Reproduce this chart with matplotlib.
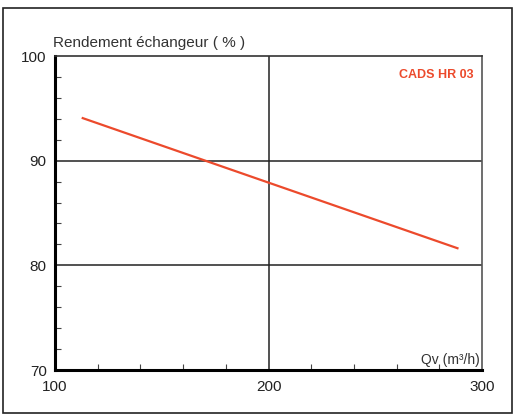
import matplotlib
matplotlib.use("Agg")
import matplotlib.pyplot as plt
from matplotlib.patches import Rectangle
from matplotlib.ticker import MultipleLocator

# data
qv = [112.5, 289]
rendement = [94.1, 81.6]
x_ticks = [100, 200, 300]
y_ticks = [70, 80, 90, 100]

RED = "#ec4a2c"
plt.rcParams["font.family"] = ["Liberation Sans", "DejaVu Sans"]

fig = plt.figure(figsize=(5.15, 4.17), dpi=100)
ax = fig.add_axes([55 / 515, 1 - 370 / 417, 427 / 515, 314 / 417])

# frame around the whole chart
fig.patches.append(Rectangle((3 / 515, 1 - 413 / 417), 509 / 515, 405 / 417,
                             transform=fig.transFigure, fill=False,
                             edgecolor="#222222", linewidth=1.2))

ax.plot(qv, rendement, color=RED, linewidth=1.6, solid_capstyle="butt")

ax.set_xlim(100, 300)
ax.set_ylim(70, 100)
ax.set_xticks(x_ticks)
ax.set_yticks(y_ticks)
ax.xaxis.set_minor_locator(MultipleLocator(20))
ax.yaxis.set_minor_locator(MultipleLocator(2))
ax.tick_params(which="major", length=0, labelsize=11, colors="#222222")
ax.tick_params(axis="x", which="major", pad=7)
ax.tick_params(axis="y", which="major", pad=6)
ax.tick_params(which="minor", direction="in", length=4, width=0.8,
               colors="#444444")

# grid lines on the inner major values
for y in [80, 90]:
    ax.axhline(y, color="#222222", linewidth=1.1, zorder=1)
ax.axvline(200, color="#222222", linewidth=1.1, zorder=1)

ax.spines["left"].set_linewidth(2.2)
ax.spines["bottom"].set_linewidth(2.2)
ax.spines["top"].set_linewidth(1.2)
ax.spines["right"].set_linewidth(1.2)
ax.spines["top"].set_color("#333333")
ax.spines["right"].set_color("#555555")

ax.text(-0.005, 1.02, "Rendement échangeur ( % )", transform=ax.transAxes,
        fontsize=11, color="#333333", ha="left", va="bottom")
ax.text(0.995, 0.01, "Qv (m³/h)", transform=ax.transAxes, fontsize=10,
        color="#333333", ha="right", va="bottom")
ax.text(0.98, 0.94, "CADS HR 03", transform=ax.transAxes, fontsize=9,
        color=RED, fontweight="bold", ha="right", va="center")

fig.savefig("out.png", dpi=100)
